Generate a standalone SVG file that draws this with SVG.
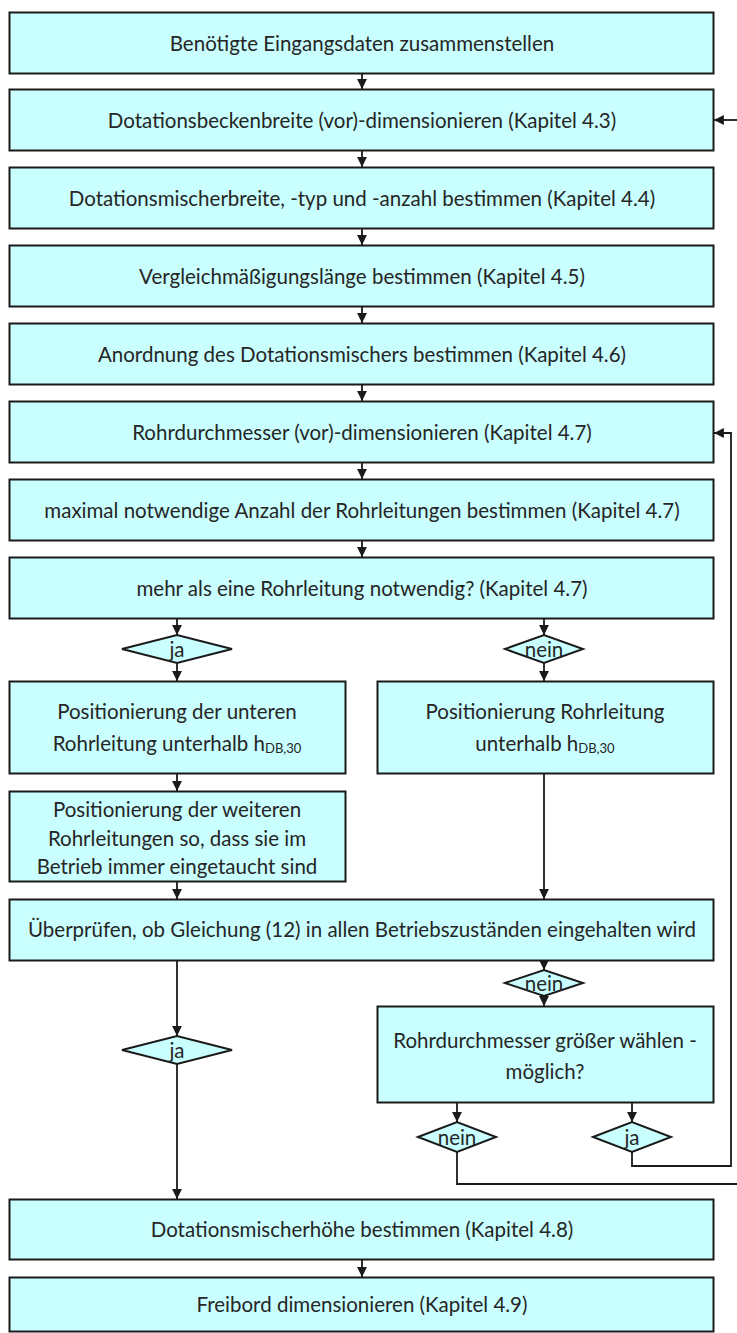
<svg xmlns="http://www.w3.org/2000/svg" width="737" height="1333" viewBox="0 0 737 1333">
<style>
.box{fill:#C9FFFF;stroke:#1a1a1a;stroke-width:2}
.dia{fill:#C9FFFF;stroke:#1a1a1a;stroke-width:2}
.t{font-family:Lato,"Open Sans","Liberation Sans",sans-serif;font-size:20.5px;fill:#262626;text-anchor:middle;dominant-baseline:central}
.sub{font-size:13px}
.c{fill:none;stroke:#1a1a1a;stroke-width:1.8}
</style>
<defs>
<marker id="ah" viewBox="0 0 10 10" refX="10" refY="5" markerWidth="5.5" markerHeight="5.5" orient="auto" markerUnits="strokeWidth">
<path d="M0,0 L10,5 L0,10 z" fill="#1a1a1a"/>
</marker>
</defs>
<rect width="737" height="1333" fill="#ffffff"/>
<g id="connectors">
<path class="c" marker-end="url(#ah)" d="M362,74 V89"/>
<path class="c" marker-end="url(#ah)" d="M362,151 V167"/>
<path class="c" marker-end="url(#ah)" d="M362,229 V245"/>
<path class="c" marker-end="url(#ah)" d="M362,307 V323"/>
<path class="c" marker-end="url(#ah)" d="M362,385 V401"/>
<path class="c" marker-end="url(#ah)" d="M362,463 V479"/>
<path class="c" marker-end="url(#ah)" d="M362,541 V557"/>
<path class="c" marker-end="url(#ah)" d="M177,619 V635"/>
<path class="c" marker-end="url(#ah)" d="M177,663 V681"/>
<path class="c" marker-end="url(#ah)" d="M544,619 V635"/>
<path class="c" marker-end="url(#ah)" d="M544,663 V681"/>
<path class="c" marker-end="url(#ah)" d="M177,774 V791"/>
<path class="c" marker-end="url(#ah)" d="M177,882 V899"/>
<path class="c" marker-end="url(#ah)" d="M544,774 V899"/>
<path class="c" marker-end="url(#ah)" d="M177,961 V1036"/>
<path class="c" marker-end="url(#ah)" d="M177,1064 V1199"/>
<path class="c" marker-end="url(#ah)" d="M544,961 V970"/>
<path class="c" marker-end="url(#ah)" d="M544,996 V1006"/>
<path class="c" marker-end="url(#ah)" d="M457,1103 V1122"/>
<path class="c" marker-end="url(#ah)" d="M632,1103 V1122"/>
<path class="c" marker-end="url(#ah)" d="M632,1152 V1166 H731 V433 H714"/>
<path class="c" d="M457,1152 V1184 H737"/>
<path class="c" marker-end="url(#ah)" d="M737,120 H714"/>
<path class="c" marker-end="url(#ah)" d="M362,1260 V1277"/>
</g>
<g id="n1"><rect class="box" x="9.5" y="12.5" width="704" height="61"/><text class="t" x="362" y="43">Benötigte Eingangsdaten zusammenstellen</text></g>
<g id="n2"><rect class="box" x="9.5" y="89.5" width="704" height="61"/><text class="t" x="362" y="120">Dotationsbeckenbreite (vor)-dimensionieren (Kapitel 4.3)</text></g>
<g id="n3"><rect class="box" x="9.5" y="167.5" width="704" height="61"/><text class="t" x="362" y="198">Dotationsmischerbreite, -typ und -anzahl bestimmen (Kapitel 4.4)</text></g>
<g id="n4"><rect class="box" x="9.5" y="245.5" width="704" height="61"/><text class="t" x="362" y="276">Vergleichmäßigungslänge bestimmen (Kapitel 4.5)</text></g>
<g id="n5"><rect class="box" x="9.5" y="323.5" width="704" height="61"/><text class="t" x="362" y="354">Anordnung des Dotationsmischers bestimmen (Kapitel 4.6)</text></g>
<g id="n6"><rect class="box" x="9.5" y="401.5" width="704" height="61"/><text class="t" x="362" y="432">Rohrdurchmesser (vor)-dimensionieren (Kapitel 4.7)</text></g>
<g id="n7"><rect class="box" x="9.5" y="479.5" width="704" height="61"/><text class="t" x="362" y="510">maximal notwendige Anzahl der Rohrleitungen bestimmen (Kapitel 4.7)</text></g>
<g id="n8"><rect class="box" x="9.5" y="557.5" width="704" height="61"/><text class="t" x="362" y="588">mehr als eine Rohrleitung notwendig? (Kapitel 4.7)</text></g>
<g id="d1"><polygon class="dia" points="122,649 177,635 232,649 177,663"/><text class="t" x="177" y="649">ja</text></g>
<g id="d2"><polygon class="dia" points="505,649 544,635 583,649 544,663"/><text class="t" x="544" y="649">nein</text></g>
<g id="n9"><rect class="box" x="9.5" y="681.5" width="336" height="92"/><text class="t" x="177" y="711">Positionierung der unteren</text><text class="t" x="177" y="743">Rohrleitung unterhalb h<tspan class="sub" dy="5">DB,30</tspan></text></g>
<g id="n10"><rect class="box" x="377.5" y="681.5" width="336" height="92"/><text class="t" x="545" y="711">Positionierung Rohrleitung</text><text class="t" x="545" y="743">unterhalb h<tspan class="sub" dy="5">DB,30</tspan></text></g>
<g id="n11"><rect class="box" x="9.5" y="791.5" width="336" height="90"/><text class="t" x="177" y="809">Positionierung der weiteren</text><text class="t" x="177" y="838">Rohrleitungen so, dass sie im</text><text class="t" x="177" y="866">Betrieb immer eingetaucht sind</text></g>
<g id="n12"><rect class="box" x="9.5" y="899.5" width="704" height="61"/><text class="t" x="362" y="929">Überprüfen, ob Gleichung (12) in allen Betriebszuständen eingehalten wird</text></g>
<g id="d3"><polygon class="dia" points="505,983 544,970 583,983 544,996"/><text class="t" x="544" y="983">nein</text></g>
<g id="d4"><polygon class="dia" points="122,1050 177,1036 232,1050 177,1064"/><text class="t" x="177" y="1050">ja</text></g>
<g id="n13"><rect class="box" x="377.5" y="1006.5" width="336" height="96"/><text class="t" x="545" y="1040">Rohrdurchmesser größer wählen  -</text><text class="t" x="545" y="1071">möglich?</text></g>
<g id="d5"><polygon class="dia" points="418,1137 457,1122 496,1137 457,1152"/><text class="t" x="457" y="1137">nein</text></g>
<g id="d6"><polygon class="dia" points="593,1137 632,1122 671,1137 632,1152"/><text class="t" x="632" y="1137">ja</text></g>
<g id="n14"><rect class="box" x="9.5" y="1199.5" width="704" height="60"/><text class="t" x="362" y="1229">Dotationsmischerhöhe bestimmen (Kapitel 4.8)</text></g>
<g id="n15"><rect class="box" x="9.5" y="1277.5" width="704" height="54"/><text class="t" x="362" y="1304">Freibord dimensionieren (Kapitel 4.9)</text></g>
</svg>
